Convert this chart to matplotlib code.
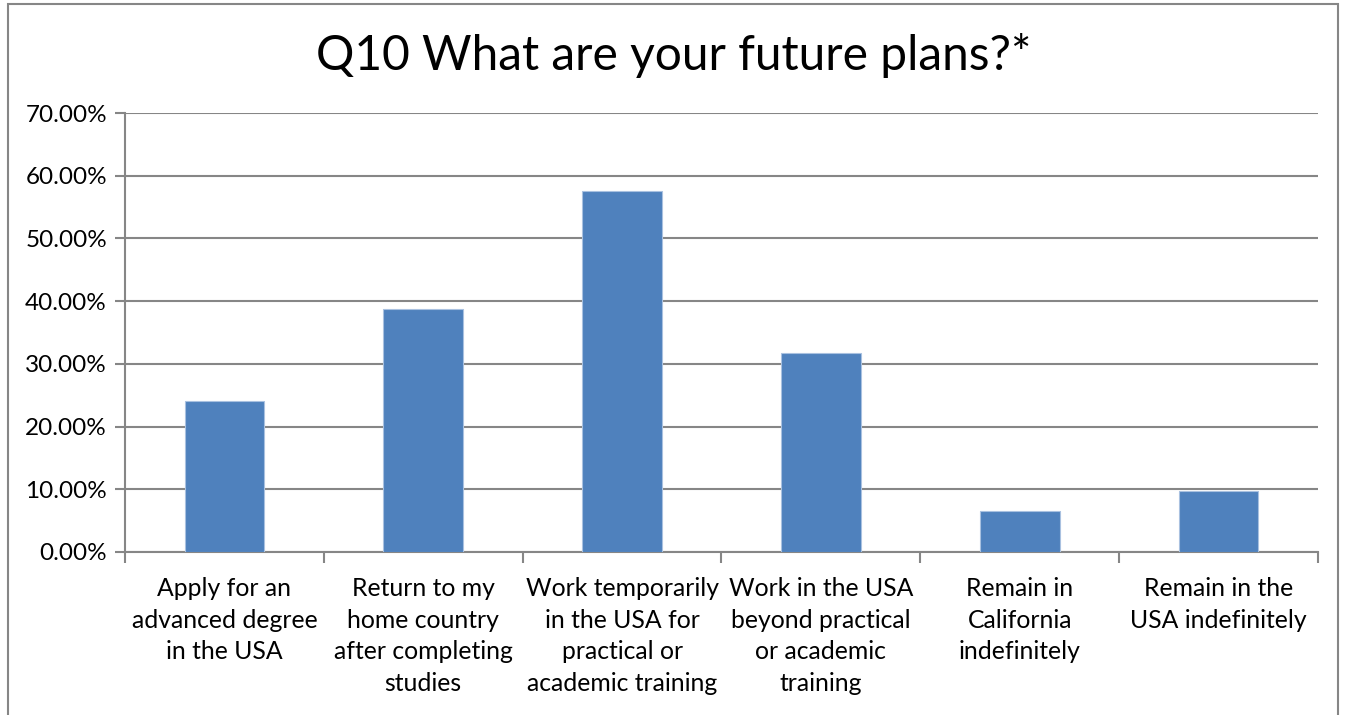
import numpy as np
import matplotlib.pyplot as plt
from matplotlib.patches import Rectangle
from matplotlib.ticker import FuncFormatter, FixedLocator

# data
categories = ['Apply for an\nadvanced degree\nin the USA',
              'Return to my\nhome country\nafter completing\nstudies',
              'Work temporarily\nin the USA for\npractical or\nacademic training',
              'Work in the USA\nbeyond practical\nor academic\ntraining',
              'Remain in\nCalifornia\nindefinitely',
              'Remain in the\nUSA indefinitely']
values = [24.0, 38.7, 57.5, 31.8, 6.5, 9.8]

plt.rcParams['font.family'] = ['Lato', 'DejaVu Sans']
GRID = '#868686'

fig = plt.figure(figsize=(13.47, 7.15), dpi=100)
ax = fig.add_axes([125/1347, 1-552/715, (1318-125)/1347, (552-113)/715])

x = np.arange(len(categories))
ax.bar(x, values, width=0.4, color='#4F81BD', edgecolor='#A9C1E0', linewidth=0.8, zorder=3)

ax.set_xlim(-0.5, len(categories)-0.5)
ax.set_ylim(0, 70)
ax.set_yticks(np.arange(0, 71, 10))
ax.yaxis.set_major_formatter(FuncFormatter(lambda v, p: '%.2f%%' % v))
ax.yaxis.grid(True, color=GRID, linewidth=1.5, zorder=0)

ax.set_xticks(x)
ax.set_xticklabels(categories, fontsize=17.8, linespacing=1.45)
ax.xaxis.set_minor_locator(FixedLocator(np.arange(-0.5, len(categories), 1)))
ax.tick_params(axis='x', which='major', length=0, pad=18)
ax.tick_params(axis='x', which='minor', length=8, width=1.5, color=GRID)
ax.tick_params(axis='y', length=7, width=1.5, color=GRID, labelsize=17.5, pad=6)

for s in ['top', 'right']:
    ax.spines[s].set_visible(False)
for s in ['left', 'bottom']:
    ax.spines[s].set_color(GRID)
    ax.spines[s].set_linewidth(1.5)

fig.text(0.5, 1-55/715, 'Q10 What are your future plans?*', ha='center', va='center', fontsize=34.5)

# outer chart border
fig.patches.append(Rectangle((8/1347, -0.05), 1330/1347, 1.045, transform=fig.transFigure,
                             fill=False, edgecolor=GRID, linewidth=1.5))

plt.savefig('out.png')
